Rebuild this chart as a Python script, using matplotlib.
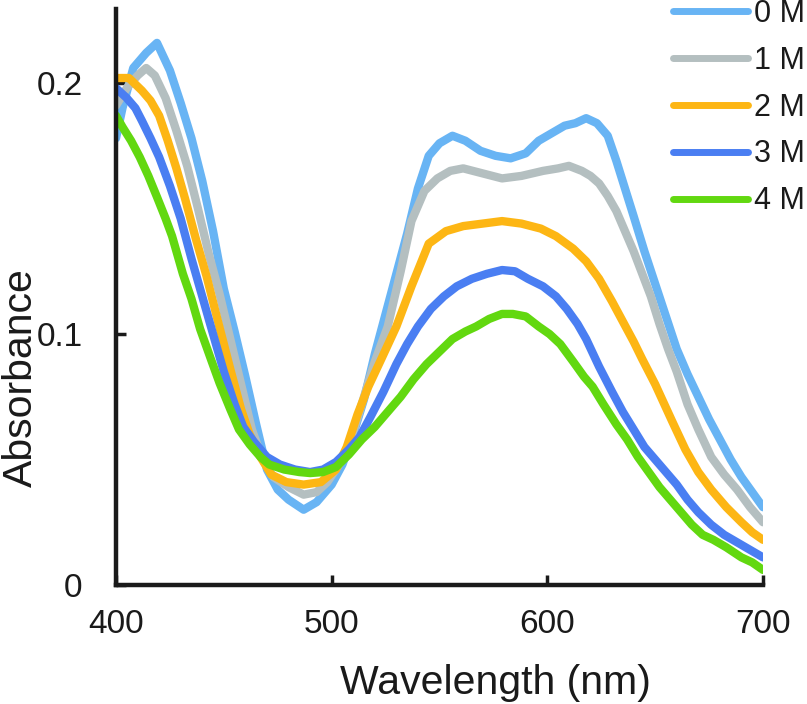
import matplotlib
matplotlib.use("Agg")
import matplotlib.pyplot as plt

plt.rcParams['font.family'] = ['Liberation Sans', 'DejaVu Sans']

labels = ["0 M", "1 M", "2 M", "3 M", "4 M"]
colors = ["#68b4f4", "#b4bfc0", "#fdb614", "#4a7ef2", "#62d810"]

wl_0M = [400, 403, 408, 414, 419, 425, 430, 435, 440, 445, 450, 455, 460, 465, 470, 475, 480, 487,
         493, 500, 505, 510, 515, 520, 525, 530, 535, 540, 545, 550, 556, 562, 569, 576, 583, 590,
         596, 602, 608, 613, 618, 623, 628, 632, 636, 640, 645, 650, 655, 660, 665, 670, 675, 680,
         685, 690, 695, 700]
abs_0M = [0.178, 0.190, 0.206, 0.212, 0.216, 0.205, 0.192, 0.178, 0.161, 0.141, 0.118, 0.101, 0.083,
          0.064, 0.046, 0.038, 0.034, 0.030, 0.033, 0.040, 0.048, 0.060, 0.074, 0.092, 0.108, 0.124,
          0.140, 0.158, 0.171, 0.176, 0.179, 0.177, 0.173, 0.171, 0.170, 0.172, 0.177, 0.180, 0.183,
          0.184, 0.186, 0.184, 0.179, 0.169, 0.158, 0.147, 0.133, 0.120, 0.107, 0.094, 0.084, 0.075,
          0.066, 0.058, 0.050, 0.043, 0.037, 0.031]

wl_1M = [400, 405, 410, 414, 418, 423, 428, 433, 438, 443, 448, 453, 458, 463, 468, 473, 480, 487,
         493, 498, 505, 510, 515, 520, 526, 532, 537, 543, 549, 555, 561, 570, 579, 588, 598, 605,
         610, 616, 620, 624, 628, 632, 636, 640, 644, 648, 652, 656, 660, 665, 670, 676, 682, 688,
         694, 700]
abs_1M = [0.191, 0.198, 0.203, 0.206, 0.203, 0.194, 0.181, 0.167, 0.150, 0.132, 0.116, 0.098, 0.080,
          0.062, 0.050, 0.043, 0.039, 0.036, 0.037, 0.041, 0.050, 0.061, 0.075, 0.089, 0.103, 0.125,
          0.145, 0.157, 0.162, 0.165, 0.166, 0.164, 0.162, 0.163, 0.165, 0.166, 0.167, 0.165, 0.163,
          0.160, 0.155, 0.149, 0.141, 0.133, 0.124, 0.115, 0.104, 0.094, 0.085, 0.072, 0.062, 0.051,
          0.044, 0.038, 0.031, 0.025]

wl_2M = [400, 406, 412, 416, 420, 424, 428, 432, 437, 442, 447, 453, 458, 462, 467, 472, 479, 487,
         495, 502, 507, 512, 517, 523, 530, 537, 545, 553, 561, 570, 579, 588, 597, 604, 612, 618,
         624, 630, 635, 640, 644, 650, 658, 664, 670, 676, 683, 690, 695, 700]
abs_2M = [0.202, 0.202, 0.197, 0.193, 0.187, 0.177, 0.166, 0.154, 0.138, 0.123, 0.106, 0.086, 0.070,
          0.060, 0.051, 0.044, 0.041, 0.040, 0.041, 0.046, 0.055, 0.068, 0.079, 0.090, 0.103, 0.119,
          0.136, 0.141, 0.143, 0.144, 0.145, 0.144, 0.142, 0.139, 0.134, 0.129, 0.122, 0.113, 0.105,
          0.097, 0.090, 0.080, 0.065, 0.054, 0.045, 0.038, 0.031, 0.025, 0.021, 0.018]

wl_3M = [400, 405, 409, 412, 416, 420, 425, 430, 435, 439, 445, 450, 455, 459, 464, 470, 476, 483,
         490, 496, 502, 508, 513, 518, 524, 530, 535, 540, 546, 552, 558, 565, 572, 579, 585, 591,
         598, 604, 609, 614, 618, 624, 630, 635, 640, 645, 650, 655, 660, 665, 670, 676, 682, 686,
         692, 700]
abs_3M = [0.198, 0.194, 0.190, 0.185, 0.178, 0.1705, 0.159, 0.146, 0.130, 0.118, 0.100, 0.085, 0.072,
          0.063, 0.057, 0.051, 0.048, 0.046, 0.045, 0.046, 0.049, 0.054, 0.059, 0.067, 0.077, 0.088,
          0.096, 0.103, 0.110, 0.115, 0.119, 0.122, 0.124, 0.1255, 0.125, 0.122, 0.119, 0.115, 0.110,
          0.104, 0.098, 0.087, 0.077, 0.069, 0.062, 0.055, 0.050, 0.045, 0.040, 0.034, 0.029, 0.024,
          0.020, 0.018, 0.015, 0.011]

wl_4M = [400, 403, 407, 411, 415, 419, 423, 426, 431, 435, 439, 444, 448, 453, 457, 462, 467, 471,
         478, 485, 490, 496, 502, 508, 514, 520, 526, 532, 538, 544, 550, 556, 562, 567, 573, 579,
         584, 590, 596, 601, 606, 612, 617, 621, 626, 632, 637, 642, 647, 652, 657, 662, 667, 672,
         677, 683, 690, 695, 700]
abs_4M = [0.187, 0.1825, 0.177, 0.1705, 0.163, 0.1546, 0.146, 0.139, 0.124, 0.114, 0.102, 0.090,
          0.0805, 0.070, 0.062, 0.056, 0.051, 0.048, 0.046, 0.045, 0.0446, 0.045, 0.047, 0.052, 0.058,
          0.063, 0.069, 0.075, 0.082, 0.088, 0.093, 0.098, 0.101, 0.103, 0.106, 0.108, 0.108, 0.107,
          0.103, 0.100, 0.096, 0.089, 0.083, 0.079, 0.072, 0.064, 0.058, 0.051, 0.045, 0.039, 0.034,
          0.029, 0.024, 0.020, 0.018, 0.015, 0.011, 0.009, 0.006]

x_ticks = [400, 500, 600, 700]
y_ticks = [0, 0.1, 0.2]
y_tick_labels = ["0", "0.1", "0.2"]

series = [(wl_0M, abs_0M), (wl_1M, abs_1M), (wl_2M, abs_2M), (wl_3M, abs_3M), (wl_4M, abs_4M)]

fig = plt.figure(figsize=(8.07, 7.04), dpi=100)
ax = fig.add_axes([116 / 807, 1 - 585 / 704, (763 - 116) / 807, (585 - 9) / 704])

for (wl, ab), lab, col in zip(series, labels, colors):
    ax.plot(wl, ab, color=col, lw=6.0, label=lab, solid_capstyle='round', solid_joinstyle='round')

ax.set_xlim(400, 700)
ax.set_ylim(0, 0.2295)
ax.set_xticks(x_ticks)
ax.set_xticklabels([str(v) for v in x_ticks])
ax.set_yticks(y_ticks)
ax.set_yticklabels(y_tick_labels)

for s in ["top", "right"]:
    ax.spines[s].set_visible(False)
for s in ["left", "bottom"]:
    ax.spines[s].set_linewidth(3.2)
    ax.spines[s].set_color("#1a1a1a")
    ax.spines[s].set_zorder(5)

ax.tick_params(axis='both', direction='in', length=7, width=2.5, color="#1a1a1a",
               labelsize=24, labelcolor="#1a1a1a")
ax.tick_params(axis='x', pad=17)
ax.tick_params(axis='y', pad=24)

fig.text(495 / 807, 1 - 694 / 704, "Wavelength (nm)", ha='center', va='baseline',
         fontsize=29.5, color="#1a1a1a")
fig.text(21 / 807, 1 - 378 / 704, "Absorbance", ha='center', va='center', rotation=90,
         fontsize=29.5, color="#1a1a1a")

leg = ax.legend(loc='upper left', bbox_to_anchor=(673 / 807, 1 + 1 / 704),
                bbox_transform=fig.transFigure, frameon=False, fontsize=22,
                handlelength=2.45, handletextpad=0.2, labelspacing=0.55,
                borderpad=0, borderaxespad=0)
for line in leg.get_lines():
    line.set_linewidth(5)
for t in leg.get_texts():
    t.set_color("#1a1a1a")

fig.savefig("out.png", dpi=100)
